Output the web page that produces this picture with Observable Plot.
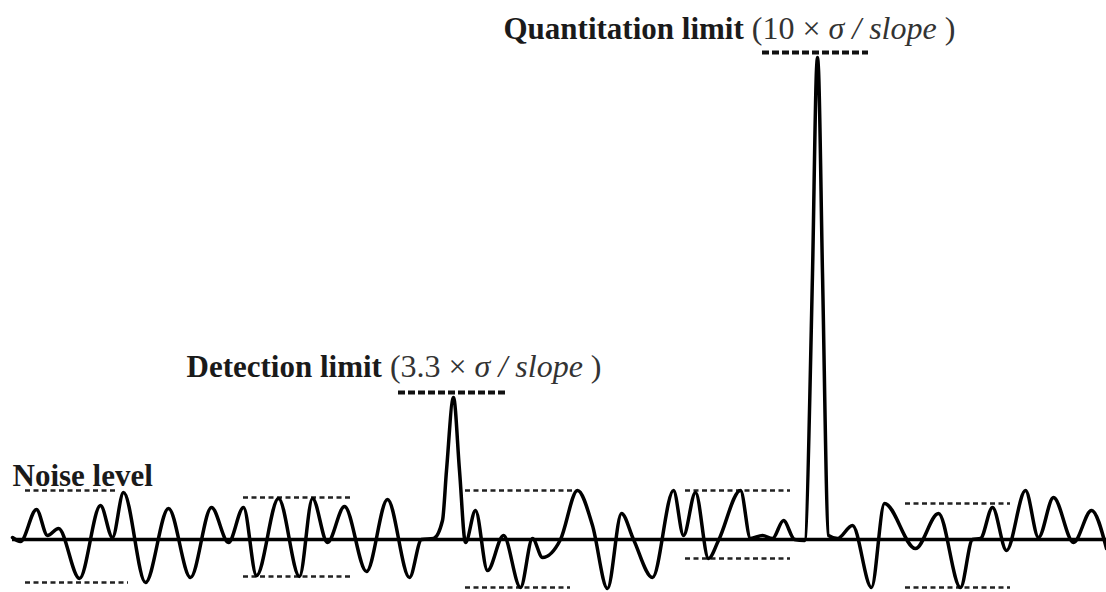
<!DOCTYPE html>
<html>
<head>
<meta charset="utf-8">
<script src="https://cdn.jsdelivr.net/npm/d3@7"></script>
<script src="https://cdn.jsdelivr.net/npm/@observablehq/plot@0.6"></script>
<style>
  html, body { margin: 0; padding: 0; background: #fff; }
  #chart svg { display: block; }
</style>
</head>
<body>
<div id="chart"></div>
<script>
// Signal trace: x position and signal value (0 = baseline)
const signalX = [12, 20, 36, 47, 58, 79, 100, 112, 123, 145, 168, 190, 211, 228, 243, 256, 278, 299, 312, 327,
  344, 366, 387, 409, 421, 433, 442, 446, 453, 459, 465, 475, 487, 503, 520, 532, 542, 560, 577, 592,
  607, 621, 633, 652, 673, 683, 695, 708, 718, 740, 750, 762, 772, 783, 794, 804, 812, 816, 817, 818,
  822, 828, 837, 852, 871, 884, 915, 938, 960, 972, 980, 992, 1006, 1025, 1038, 1053, 1073, 1091, 1106];
const signalY = [2, -2, 30, 4, 11, -39, 34, 2, 47, -43, 31, -38, 32, -3, 32, -36, 41, -37, 41, -3,
  33, -32, 40, -38, 0, 1, 19, 69, 142, 69, -3, 29, -31, 4, -48, 1, -18, 0, 49, 14,
  -49, 26, 0, -38, 49, 4, 47, -19, -1, 49, 1, 4, 1, 19, 0, -1, 266, 470, 482, 470,
  266, 4, 1, 14, -48, 36, -9, 26, -48, 0, 1, 32, -11, 49, 2, 42, -3, 29, -9];

// Baseline extent
const baselineX1 = [12];
const baselineX2 = [1106];

// Noise-level dashed segments
const noiseX1 = [25, 25, 243, 243, 465, 465, 685, 685, 905, 905];
const noiseX2 = [118, 128, 350, 350, 573, 570, 790, 790, 1010, 1010];
const noiseY  = [49, -43, 42, -37, 49, -48, 49, -19, 36, -48];

// Limit dashed segments (detection, quantitation)
const limitX1 = [398, 762];
const limitX2 = [507, 868];
const limitY  = [147, 487];

// Labels
const labelText = ["Noise level", "Detection limit", "Quantitation limit"];
const labelX = [12, 186, 503];
const labelY = [54, 163, 501];
const labelSuffix = [
  null,
  [[" (3.3 × ", false], ["σ / slope", true], [" )", false]],
  [[" (10 × ", false], ["σ / slope", true], [" )", false]]
];

const signal = signalX.map((x, i) => ({x, y: signalY[i]}));
const baseline = baselineX1.map((x1, i) => ({x1, x2: baselineX2[i], y: 0}));
const noise = noiseX1.map((x1, i) => ({x1, x2: noiseX2[i], y: noiseY[i]}));
const limits = limitX1.map((x1, i) => ({x1, x2: limitX2[i], y: limitY[i]}));
const labels = labelText.map((t, i) => ({t, x: labelX[i], y: labelY[i]}));

const font = "'Liberation Serif', 'Times New Roman', serif";

const chart = Plot.plot({
  width: 1106,
  height: 592,
  marginTop: 0, marginRight: 0, marginBottom: 0, marginLeft: 0,
  x: {domain: [0, 1106], axis: null},
  y: {domain: [-53, 539], axis: null},
  style: {background: "#fff"},
  marks: [
    Plot.ruleY(noise, {x1: "x1", x2: "x2", y: "y", stroke: "#222", strokeWidth: 2.5, strokeDasharray: "5,3.5"}),
    Plot.ruleY(limits, {x1: "x1", x2: "x2", y: "y", stroke: "#111", strokeWidth: 4, strokeDasharray: "7,3"}),
    Plot.ruleY(baseline, {x1: "x1", x2: "x2", y: "y", stroke: "#000", strokeWidth: 3.5}),
    Plot.line(signal, {x: "x", y: "y", curve: "monotone-x", stroke: "#000", strokeWidth: 3.5, strokeLinejoin: "round"}),
    Plot.text(labels, {x: "x", y: "y", text: "t", textAnchor: "start", lineAnchor: "bottom",
      fontFamily: font, fontWeight: "bold", fontSize: 31, fill: "#1a1a1a"})
  ]
});

d3.select(chart).selectAll("text").each(function() {
  const i = labelText.indexOf(this.textContent);
  if (i >= 0 && labelSuffix[i]) {
    const el = d3.select(this);
    for (const [t, italic] of labelSuffix[i]) {
      el.append("tspan")
        .attr("font-weight", "normal")
        .attr("font-style", italic ? "italic" : "normal")
        .attr("font-size", 32)
        .attr("fill", "#333")
        .style("white-space", "pre")
        .text(t);
    }
  }
});

document.getElementById("chart").appendChild(chart);
</script>
</body>
</html>
